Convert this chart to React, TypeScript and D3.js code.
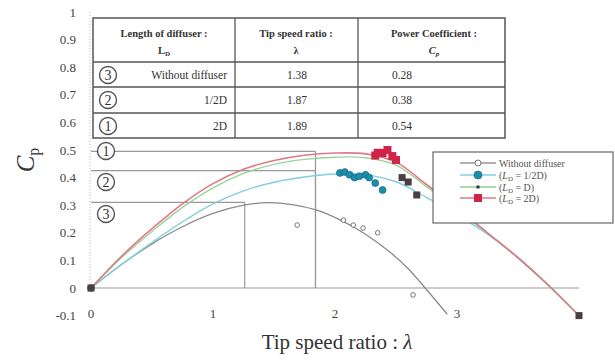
import React from "react";
import * as d3 from "d3";

// Fitted Cp–λ curves
const curveLambda = [0, 0.25, 0.5, 0.75, 1, 1.25, 1.5, 1.75, 2, 2.25, 2.5, 2.75, 3, 3.25, 3.5, 3.75, 4];
const curve2D = [0, 0.115, 0.215, 0.305, 0.378, 0.43, 0.462, 0.481, 0.489, 0.486, 0.456, 0.375, 0.29, 0.2, 0.11, 0.01, -0.1];
const curveD = [0, 0.11, 0.205, 0.292, 0.363, 0.415, 0.448, 0.466, 0.474, 0.472, 0.445, 0.367, 0.285, 0.198, 0.108, 0.008, -0.1];
const curveHalfD = [0, 0.085, 0.165, 0.24, 0.305, 0.352, 0.383, 0.402, 0.413, 0.41, 0.385, 0.328, 0.265, 0.195, 0.11, 0.01, -0.1];
const bareLambda = [0, 0.25, 0.5, 0.75, 1, 1.25, 1.45, 1.65, 1.85, 2.05, 2.25, 2.45, 2.6, 2.72, 2.92];
const bareCp = [0, 0.085, 0.16, 0.222, 0.27, 0.3, 0.309, 0.302, 0.282, 0.245, 0.195, 0.13, 0.07, 0.01, -0.095];

// Measured points
const ptsBareL = [1.69, 2.07, 2.15, 2.23, 2.35, 2.64];
const ptsBareCp = [0.228, 0.246, 0.228, 0.217, 0.2, -0.025];
const ptsHalfL = [0, 2.04, 2.08, 2.12, 2.16, 2.2, 2.25, 2.28, 2.33, 2.39];
const ptsHalfCp = [0, 0.417, 0.42, 0.41, 0.4, 0.405, 0.41, 0.4, 0.38, 0.355];
const ptsDL = [0, 2.55, 2.6, 2.67, 4];
const ptsDCp = [0, 0.4, 0.384, 0.337, -0.1];
const pts2DL = [2.33, 2.35, 2.39, 2.43, 2.47, 2.5];
const pts2DCp = [0.48, 0.49, 0.489, 0.5, 0.478, 0.464];

// Optimum markers ①②③
const optLambda = [1.84, 1.84, 1.26];
const optCp = [0.495, 0.425, 0.31];
const optLabels = ["1", "2", "3"];

const yTicks = [-0.1, 0, 0.1, 0.2, 0.3, 0.4, 0.5, 0.6, 0.7, 0.8, 0.9, 1];
const xTicks = [0, 1, 2, 3];

const tableRows = [
  { n: "3", len: "Without diffuser", tsr: "1.38", cp: "0.28" },
  { n: "2", len: "1/2D", tsr: "1.87", cp: "0.38" },
  { n: "1", len: "2D", tsr: "1.89", cp: "0.54" },
];

const W = 615;
const H = 362;
const serif = "Liberation Serif, Times New Roman, DejaVu Serif, serif";

export default function App() {
  const x = d3.scaleLinear().domain([0, 4]).range([91, 579]);
  const y = d3.scaleLinear().domain([-0.1, 1]).range([315.6, 12]);

  const line = d3
    .line<[number, number]>()
    .x((d) => x(d[0]))
    .y((d) => y(d[1]))
    .curve(d3.curveCatmullRom.alpha(0.5));

  const zip = (a: number[], b: number[]) => a.map((v, i) => [v, b[i]] as [number, number]);

  const circled = (cx: number, cy: number, t: string, key: string) => (
    <g key={key}>
      <circle cx={cx} cy={cy} r={8.5} fill="white" stroke="#555" strokeWidth={1.4} />
      <text x={cx} y={cy + 5} textAnchor="middle" fontSize={14} fill="#333">
        {t}
      </text>
    </g>
  );

  // table geometry
  const tL = 93, tR = 505, tT = 18, tH = 62;
  const rowLines = [87, 113, 138];
  const col1 = 235, col2 = 358;
  const rowMid = [75, 100, 126];

  const legendItems = [
    { label: "Without diffuser", sub: null as string | null, color: "#999", marker: "open" },
    { label: "1/2D", sub: "D", color: "#7fd0dc", marker: "circle" },
    { label: "D", sub: "D", color: "#8fcf8f", marker: "tri" },
    { label: "2D", sub: "D", color: "#e07888", marker: "square" },
  ];
  const legRows = [163, 175, 187, 198];

  return (
    <svg
      width={W}
      height={H}
      style={{ position: "absolute", left: 0, top: 0, background: "white", fontFamily: serif }}
    >
      {/* left guide */}
      <line x1={x(0) - 1} x2={x(0) - 1} y1={y(1)} y2={y(0)} stroke="#bbb" strokeDasharray="1,2" />
      {/* zero line */}
      <line x1={x(0)} x2={x(4)} y1={y(0)} y2={y(0)} stroke="#999" strokeWidth={1.2} />

      {/* optimum guides */}
      {optCp.map((c, i) => (
        <g key={"opt" + i}>
          <line x1={x(0)} x2={x(optLambda[i])} y1={y(c)} y2={y(c)} stroke="#999" strokeWidth={1.2} />
          <line x1={x(optLambda[i])} x2={x(optLambda[i])} y1={y(c)} y2={y(0)} stroke="#999" strokeWidth={1.2} />
        </g>
      ))}
      {circled(106, 151, optLabels[0], "c1")}
      {circled(106, 182, optLabels[1], "c2")}
      {circled(106, 214, optLabels[2], "c3")}

      {/* curves */}
      <path d={line(zip(bareLambda, bareCp)) || ""} fill="none" stroke="#8a8a8a" strokeWidth={1.3} />
      <path d={line(zip(curveLambda, curveHalfD)) || ""} fill="none" stroke="#7fd0dc" strokeWidth={1.4} />
      <path d={line(zip(curveLambda, curveD)) || ""} fill="none" stroke="#9ad39a" strokeWidth={1.4} />
      <path d={line(zip(curveLambda, curve2D)) || ""} fill="none" stroke="#e07888" strokeWidth={1.6} />

      {/* points */}
      {zip(ptsBareL, ptsBareCp).map((p, i) => (
        <circle key={"b" + i} cx={x(p[0])} cy={y(p[1])} r={2.3} fill="white" stroke="#777" strokeWidth={1} />
      ))}
      {zip(ptsHalfL, ptsHalfCp).map((p, i) => (
        <circle key={"h" + i} cx={x(p[0])} cy={y(p[1])} r={3.5} fill="#1b8eab" stroke="#16607a" strokeWidth={0.6} />
      ))}
      {zip(ptsDL, ptsDCp).map((p, i) => (
        <rect key={"d" + i} x={x(p[0]) - 3.5} y={y(p[1]) - 3.5} width={7} height={7} fill="#4a3e44" />
      ))}
      {zip(pts2DL, pts2DCp).map((p, i) => (
        <rect key={"r" + i} x={x(p[0]) - 4} y={y(p[1]) - 4} width={8} height={8} fill="#cf2448" />
      ))}

      {/* y ticks */}
      {yTicks.map((t) => (
        <text key={"yt" + t} x={76} y={y(t) + 4.5} textAnchor="end" fontSize={13} fill="#444">
          {String(t)}
        </text>
      ))}
      {/* x ticks */}
      {xTicks.map((t) => (
        <text key={"xt" + t} x={x(t)} y={318} textAnchor="middle" fontSize={13} fill="#444">
          {t}
        </text>
      ))}
      <text x={337} y={349} textAnchor="middle" fontSize={21} fill="#333">
        Tip speed ratio : <tspan fontStyle="italic">λ</tspan>
      </text>
      <text transform="translate(34,160) rotate(-90)" textAnchor="middle" fontSize={25} fill="#333">
        <tspan fontStyle="italic">C</tspan>
        <tspan fontSize={16} dy={5}>p</tspan>
      </text>

      {/* table */}
      <rect x={tL} y={tT} width={tR - tL} height={rowLines[2] - tT} fill="white" stroke="#555" strokeWidth={1.5} />
      <line x1={tL} x2={tR} y1={tH} y2={tH} stroke="#555" strokeWidth={1.5} />
      {rowLines.slice(0, 2).map((r) => (
        <line key={"rl" + r} x1={tL} x2={tR} y1={r} y2={r} stroke="#555" strokeWidth={1.3} />
      ))}
      <line x1={col1} x2={col1} y1={tT} y2={rowLines[2]} stroke="#555" strokeWidth={1.3} />
      <line x1={col2} x2={col2} y1={tT} y2={rowLines[2]} stroke="#555" strokeWidth={1.3} />

      <g fontSize={10.5} fontWeight="bold" fill="#333" textAnchor="middle">
        <text x={164} y={37}>Length of diffuser :</text>
        <text x={164} y={54}>
          L<tspan fontSize={7} dy={2}>D</tspan>
        </text>
        <text x={296} y={37}>Tip speed ratio :</text>
        <text x={296} y={54}>λ</text>
        <text x={434} y={37}>Power Coefficient :</text>
        <text x={434} y={54} fontStyle="italic">
          C<tspan fontSize={7} dy={2}>p</tspan>
        </text>
      </g>
      {tableRows.map((r, i) => (
        <g key={"row" + i} fontSize={11.5} fill="#333">
          {circled(108, rowMid[i], r.n, "tc" + i)}
          <text x={227} y={rowMid[i] + 4} textAnchor="end">{r.len}</text>
          <text x={297} y={rowMid[i] + 4} textAnchor="middle">{r.tsr}</text>
          <text x={402} y={rowMid[i] + 4} textAnchor="middle">{r.cp}</text>
        </g>
      ))}

      {/* legend */}
      <rect x={433} y={152} width={180} height={71} fill="white" stroke="#666" strokeWidth={1.2} />
      {legendItems.map((it, i) => {
        const ly = legRows[i];
        return (
          <g key={"lg" + i}>
            <line x1={460} x2={496} y1={ly} y2={ly} stroke={i === 0 ? "#999" : it.color} strokeWidth={1.3} />
            {it.marker === "open" && <circle cx={478} cy={ly} r={3} fill="white" stroke="#777" />}
            {it.marker === "circle" && <circle cx={478} cy={ly} r={4} fill="#1b8eab" stroke="#16607a" strokeWidth={0.6} />}
            {it.marker === "tri" && <rect x={476.5} y={ly - 1.5} width={3} height={3} fill="#333" />}
            {it.marker === "square" && <rect x={474} y={ly - 4} width={8} height={8} fill="#cf2448" />}
            <text x={499} y={ly + 3.5} fontSize={10} fill="#555">
              {it.sub ? (
                <>
                  (<tspan fontStyle="italic">L</tspan>
                  <tspan fontSize={7} dy={2}>D</tspan>
                  <tspan dy={-2}> = {it.label})</tspan>
                </>
              ) : (
                it.label
              )}
            </text>
          </g>
        );
      })}
    </svg>
  );
}
